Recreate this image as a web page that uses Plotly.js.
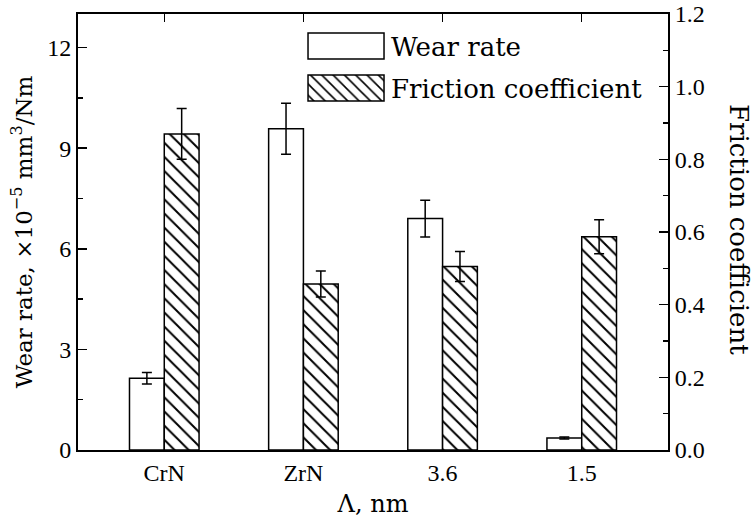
<!DOCTYPE html>
<html>
<head>
<meta charset="utf-8">
<script src="https://cdn.plot.ly/plotly-3.0.1.min.js"></script>
<style>html,body{margin:0;padding:0;background:#fff;}#chart{width:753px;height:527px;}</style>
</head>
<body>
<div id="chart"></div>
<script>
const categories = ["CrN", "ZrN", "3.6", "1.5"];
const wearRate = [2.14, 9.58, 6.90, 0.36];
const wearErr = [0.17, 0.76, 0.55, 0.03];
const friction = [0.870, 0.457, 0.505, 0.587];
const frictionErr = [0.07, 0.036, 0.041, 0.047];
const leftTicks = [0, 3, 6, 9, 12];
const rightTicks = [0, 0.2, 0.4, 0.6, 0.8, 1.0, 1.2];
const rightTickText = ["0.0", "0.2", "0.4", "0.6", "0.8", "1.0", "1.2"];

const serif = "Liberation Serif";
const wideSerif = "DejaVu Serif";

const traces = [
  {
    type: "bar", name: "Wear rate", x: categories, y: wearRate,
    xaxis: "x", yaxis: "y", width: 0.25, offset: -0.25,
    legendgroup: "a",
    marker: {color: "#ffffff", line: {color: "#000", width: 1.5}},
    error_y: {type: "data", array: wearErr, color: "#000", thickness: 1.5, width: 5}
  },
  {
    type: "bar", name: "Friction coefficient", x: categories, y: friction,
    xaxis: "x", yaxis: "y2", width: 0.25, offset: 0,
    legendgroup: "b",
    marker: {color: "#ffffff", line: {color: "#000", width: 1.5},
      pattern: {shape: "\\", fgcolor: "#000", bgcolor: "#fff", size: 10, solidity: 0.2}},
    error_y: {type: "data", array: frictionErr, color: "#000", thickness: 1.5, width: 5}
  }
];

const layout = {
  width: 753, height: 527,
  margin: {l: 78, r: 85, t: 14, b: 77},
  paper_bgcolor: "#fff", plot_bgcolor: "#fff",
  font: {family: serif, color: "#000", size: 24},
  showlegend: true,
  barmode: "overlay",
  legend: {
    x: 0.378, y: 0.98, xanchor: "left", yanchor: "top",
    bgcolor: "rgba(0,0,0,0)", borderwidth: 0,
    font: {family: wideSerif, size: 26, color: "#000"},
    itemwidth: 80, traceorder: "grouped", tracegroupgap: 5
  },
  xaxis: {
    type: "category", range: [-0.62, 3.62],
    showline: true, linecolor: "#000", linewidth: 2, mirror: "ticks",
    ticks: "inside", ticklen: 8, tickwidth: 1.5, tickcolor: "#000",
    showgrid: false, zeroline: false,
    tickfont: {family: serif, size: 24, color: "#000"},
    title: {text: "Λ, nm", font: {family: wideSerif, size: 24, color: "#000"}, standoff: 10}
  },
  yaxis: {
    range: [0, 13], tickvals: leftTicks,
    showline: true, linecolor: "#000", linewidth: 2,
    ticks: "inside", ticklen: 9, tickwidth: 1.5, tickcolor: "#000",
    minor: {dtick: 1.5, tick0: 0, ticks: "inside", ticklen: 5, tickwidth: 1.5, tickcolor: "#000", showgrid: false},
    showgrid: false, zeroline: false,
    tickfont: {family: serif, size: 24, color: "#000"},
    title: {text: "Wear rate, ×10<sup>−5</sup> mm<sup>3</sup>/Nm", font: {family: wideSerif, size: 23, color: "#000"}, standoff: 8}
  },
  yaxis2: {
    overlaying: "y", side: "right", range: [0, 1.2],
    tickvals: rightTicks, ticktext: rightTickText,
    showline: true, linecolor: "#000", linewidth: 2,
    ticks: "inside", ticklen: 9, tickwidth: 1.5, tickcolor: "#000",
    minor: {dtick: 0.1, tick0: 0, ticks: "inside", ticklen: 5, tickwidth: 1.5, tickcolor: "#000", showgrid: false},
    showgrid: false, zeroline: false,
    tickfont: {family: serif, size: 24, color: "#000"}
  },
  annotations: [{
    text: "Friction coefficient", xref: "paper", yref: "paper",
    x: 1.12, y: 0.505, xanchor: "center", yanchor: "middle",
    textangle: 90, showarrow: false,
    font: {family: wideSerif, size: 26, color: "#000"}
  }]
};

Plotly.newPlot("chart", traces, layout, {staticPlot: true}).then(function (gd) {
  gd.querySelectorAll(".legend .legendpoints path").forEach(function (p) {
    p.setAttribute("d", "M38,13H-38V-13H38Z");
  });
});
</script>
</body>
</html>
